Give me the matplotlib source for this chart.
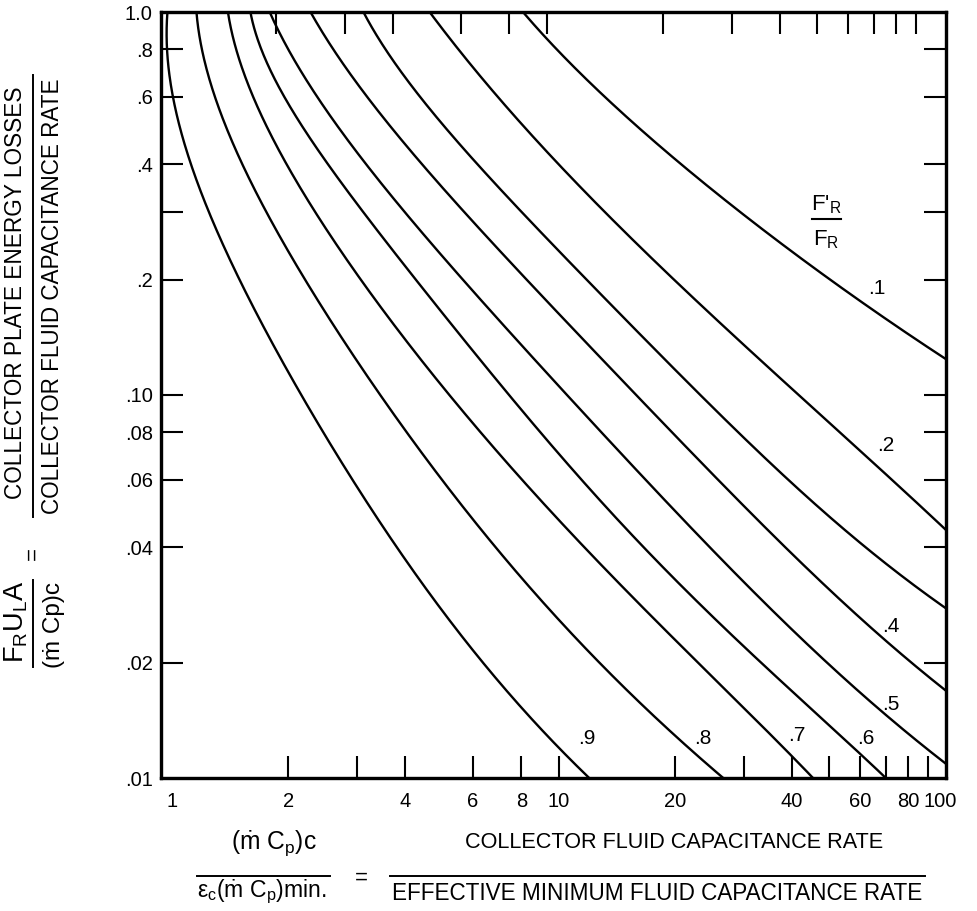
import numpy as np
import matplotlib
matplotlib.use("Agg")
import matplotlib.pyplot as plt
from matplotlib.lines import Line2D
from matplotlib.transforms import ScaledTranslation

plt.rcParams['font.family'] = ['Liberation Sans', 'DejaVu Sans']
plt.rcParams['mathtext.fontset'] = 'custom'
plt.rcParams['mathtext.rm'] = 'Liberation Sans'
plt.rcParams['mathtext.it'] = 'Liberation Sans'
plt.rcParams['mathtext.bf'] = 'Liberation Sans:bold'

# ---------------- data ----------------
curve_names = ['.1', '.2', '.3', '.4', '.5', '.6', '.7', '.8', '.9']

x_1 = [8.07, 11.33, 13.31, 16.19, 23.14, 36.58, 59.95, 67.92, 100]
y_1 = [1.0, 0.697, 0.589, 0.492, 0.371, 0.249, 0.179, 0.160, 0.124]

x_2 = [4.642, 5.716, 6.918, 9.42, 14.38, 22.20, 32.29, 41.95, 52.90, 62.50, 71.24, 100]
y_2 = [1.0, 0.763, 0.589, 0.436, 0.275, 0.177, 0.126, 0.101, 0.0796, 0.0689, 0.0611, 0.0444]

x_3 = [3.097, 3.770, 4.479, 5.648, 9.65, 13.31, 19.36, 28.50, 39.54, 51.05, 71.67, 100]
y_3 = [1.0, 0.749, 0.589, 0.436, 0.243, 0.177, 0.122, 0.0810, 0.0600, 0.0466, 0.0356, 0.0278]

x_4 = [2.273, 2.685, 3.248, 4.121, 5.482, 9.31, 13.55, 19.71, 28.50, 37.92, 43.73, 53.22, 70.39, 84.16, 100]
y_4 = [1.0, 0.772, 0.589, 0.436, 0.310, 0.177, 0.1176, 0.0796, 0.0551, 0.0394, 0.0349, 0.0297, 0.0229, 0.0195, 0.0168]

x_5 = [1.813, 2.370, 2.884, 4.246, 6.516, 9.48, 16.19, 23.56, 27.17, 37.92, 56.49, 76.05, 100]
y_5 = [1.0, 0.589, 0.436, 0.283, 0.177, 0.114, 0.0618, 0.0394, 0.0349, 0.0263, 0.0184, 0.0139, 0.0106]

x_6 = [1.591, 1.994, 2.370, 3.248, 4.697, 7.469, 9.48, 16.68, 18.79, 23.14, 32.10, 40.7, 56.49, 69.56]
y_6 = [1.0, 0.589, 0.436, 0.283, 0.177, 0.0988, 0.0763, 0.0394, 0.0349, 0.0283, 0.0207, 0.01667, 0.0123, 0.0100]

x_7 = [1.395, 1.639, 1.879, 2.442, 3.367, 5.229, 9.48, 11.82, 13.31, 19.02, 23.14, 31.16, 40.25, 45.32]
y_7 = [1.0, 0.589, 0.436, 0.283, 0.177, 0.0988, 0.0501, 0.0394, 0.0349, 0.0239, 0.0197, 0.0148, 0.0113, 0.0100]

x_8 = [1.160, 1.291, 1.455, 1.813, 2.370, 3.448, 4.782, 6.918, 7.744, 8.93, 12.03, 17.50, 21.80, 26.85]
y_8 = [1.0, 0.589, 0.436, 0.292, 0.177, 0.0988, 0.0637, 0.0394, 0.0349, 0.0292, 0.0216, 0.0144, 0.0118, 0.0100]

x_9 = [0.971, 0.971, 0.994, 1.030, 1.087, 1.153, 1.239, 1.563, 2.179, 2.884, 3.815, 4.925, 7.041, 9.88, 11.33, 12.24]
y_9 = [1.0, 0.820, 0.665, 0.555, 0.436, 0.353, 0.292, 0.196, 0.0988, 0.0589, 0.0394, 0.0292, 0.0177, 0.0118, 0.0105, 0.0100]

curves_x = [x_1, x_2, x_3, x_4, x_5, x_6, x_7, x_8, x_9]
curves_y = [y_1, y_2, y_3, y_4, y_5, y_6, y_7, y_8, y_9]

# label anchor positions (data coordinates) for the curve labels
label_names = ['.1', '.2', '.4', '.5', '.6', '.7', '.8', '.9']
label_x = [66.3, 70.0, 72.1, 72.1, 62.1, 41.2, 23.56, 11.82]
label_y = [0.190, 0.0736, 0.0248, 0.0156, 0.0127, 0.01295, 0.0127, 0.0127]

# tick marks (with labels where the original has them)
x_ticks = [2, 3, 4, 6, 8, 10, 20, 30, 40, 50, 60, 70, 80, 90]
x_ticklabels = ['2', '', '4', '6', '8', '10', '20', '', '40', '', '60', '', '80', '']
x_edge_ticks = [1, 100]
x_edge_labels = ['1', '100']
y_ticks = [0.02, 0.04, 0.06, 0.08, 0.1, 0.2, 0.3, 0.4, 0.6, 0.8]
y_ticklabels = ['.02', '.04', '.06', '.08', '.10', '.2', '', '.4', '.6', '.8']
y_edge_ticks = [0.01, 1.0]
y_edge_labels = ['.01', '1.0']


def smooth(xs, ys):
    """least-squares smooth curve through the read points (log-log space)"""
    lx = np.log10(xs)
    ly = np.log10(ys)
    deg = 5 if len(xs) >= 14 else 4
    c = np.polyfit(ly, lx, deg)
    lyy = np.linspace(ly.max() + 0.02, ly.min() - 0.03, 400)
    return 10 ** np.polyval(c, lyy), 10 ** lyy


W, H = 977, 911
fig = plt.figure(figsize=(W / 100, H / 100), dpi=100)
ax = fig.add_axes([161 / W, 1 - 778 / H, (946 - 161) / W, (778 - 12) / H])
ax.set_xscale('log')
ax.set_yscale('log')
ax.set_xlim(0.937, 100)
ax.set_ylim(0.01, 1.0)

for xs, ys in zip(curves_x, curves_y):
    sx, sy = smooth(xs, ys)
    ax.plot(sx, sy, color='black', lw=1.7, solid_capstyle='butt')

for name, lx, ly in zip(label_names, label_x, label_y):
    ax.text(lx, ly, name, ha='center', va='center', fontsize=15)

TL, TW, LS = 15.5, 1.5, 14.5
ax.set_xticks(x_ticks)
ax.set_xticklabels(x_ticklabels)
ax.set_xticks(x_edge_ticks, minor=True)
ax.set_xticklabels(x_edge_labels, minor=True)
ax.set_yticks(y_ticks)
ax.set_yticklabels(y_ticklabels)
ax.set_yticks(y_edge_ticks, minor=True)
ax.set_yticklabels(y_edge_labels, minor=True)
ax.tick_params(axis='both', which='major', direction='in', length=TL, width=TW,
               labelsize=LS, colors='black')
ax.tick_params(axis='both', which='minor', direction='in', length=0, width=0,
               labelsize=LS, colors='black')
ax.tick_params(axis='x', which='both', pad=10, top=False)
ax.tick_params(axis='y', which='both', pad=6, right=True)
ax.tick_params(axis='y', which='minor', right=False)
# nudge the "100" label a little left, as drawn in the original
lab100 = ax.get_xticklabels(minor=True)[-1]
lab100.set_transform(lab100.get_transform() + ScaledTranslation(-6 / 100, 0, fig.dpi_scale_trans))

# top tick marks (drawn slightly offset to the left in the original)
axt = ax.twiny()
axt.set_xscale('log')
axt.set_xlim(0.937 * 1.074, 100 * 1.074)
axt.xaxis.set_minor_locator(matplotlib.ticker.NullLocator())
axt.set_xticks(x_ticks)
axt.set_xticklabels([])
axt.tick_params(axis='x', which='major', direction='in', length=TL, width=TW, top=True)
for s in list(ax.spines.values()) + list(axt.spines.values()):
    s.set_linewidth(2.3)
    s.set_color('black')

renderer = fig.canvas.get_renderer()


def P(px, py):
    return px / W, 1 - py / H


def ftext(px, py, s, target=None, rot=0, size=15, **kw):
    t = fig.text(*P(px, py), s, ha='center', va='center', rotation=rot,
                 fontsize=size, **kw)
    if target is not None:
        bb = t.get_window_extent(renderer)
        cur = bb.height if rot == 90 else bb.width
        t.set_fontsize(size * target / cur)
    return t


def fline(p1, p2, lw=1.4):
    (x1, y1), (x2, y2) = P(*p1), P(*p2)
    fig.add_artist(Line2D([x1, x2], [y1, y2], transform=fig.transFigure,
                          color='black', lw=lw))


# F'_R / F_R legend label
ftext(826, 205, "F'$_\\mathrm{R}$", size=16)
fline((812, 219), (841, 219), lw=1.5)
ftext(826, 240, "F$_\\mathrm{R}$", size=16)

# y-axis label (rotated fraction)
ftext(16, 293, 'COLLECTOR PLATE ENERGY LOSSES', target=413, rot=90)
ftext(53, 296, 'COLLECTOR FLUID CAPACITANCE RATE', target=437, rot=90)
fline((33, 75), (33, 517))
ftext(33, 553, '=', rot=90, size=16)
ftext(16, 622, 'F$_\\mathrm{R}$U$_\\mathrm{L}$A', target=83, rot=90)
ftext(54, 625, '(ṁ Cp)c', target=86, rot=90)
fline((33, 580), (33, 667))

# x-axis label (fraction)
den = ftext(657, 893, 'EFFECTIVE MINIMUM FLUID CAPACITANCE RATE', target=532)
fs = den.get_fontsize()
ftext(674, 843, 'COLLECTOR FLUID CAPACITANCE RATE', size=fs * 0.96)
fline((390, 876), (925, 876))
ftext(274, 843, '(ṁ C$_\\mathrm{p}$)c', target=86)
fline((197, 876), (330, 876))
ftext(262, 892, 'ε$_\\mathrm{c}$(ṁ C$_\\mathrm{p}$)min.', target=130)
ftext(361, 878, '=', size=16)

fig.savefig('out.png', dpi=100, facecolor='white')
